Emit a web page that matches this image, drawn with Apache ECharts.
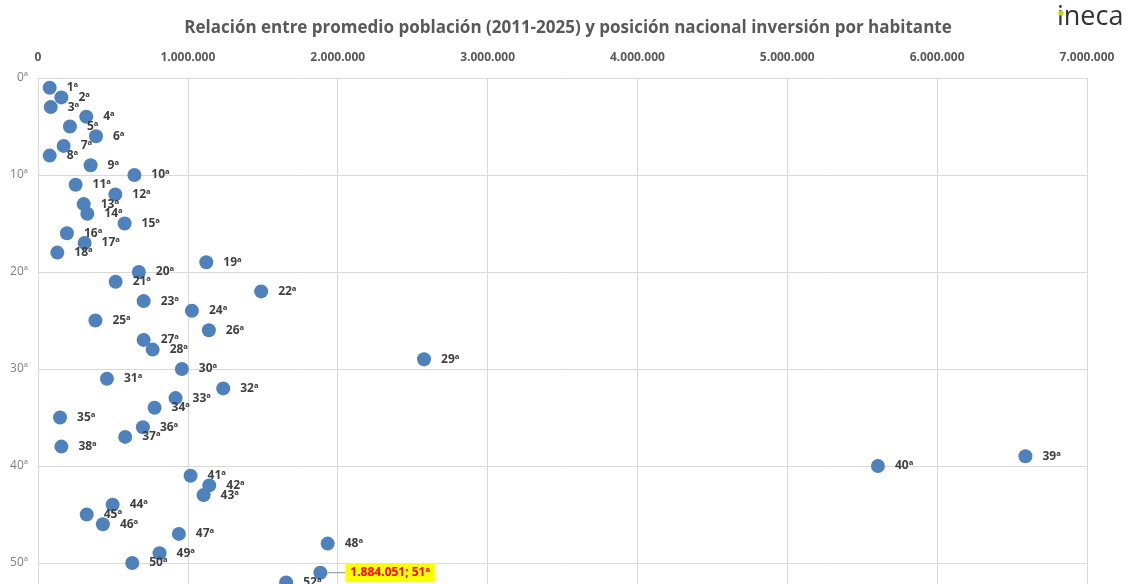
<!DOCTYPE html>
<html>
<head>
<meta charset="utf-8">
<title>Población vs posición inversión</title>
<script src="https://cdn.jsdelivr.net/npm/echarts@6/dist/echarts.min.js"></script>
<style>
  html, body { margin: 0; padding: 0; background: #fff; }
  #chart { width: 1132px; height: 584px; }
</style>
</head>
<body>
<div id="chart"></div>
<script>
// posición nacional (eje Y) de cada municipio
const ranks = [1, 2, 3, 4, 5, 6, 7, 8, 9, 10,
  11, 12, 13, 14, 15, 16, 17, 18, 19, 20,
  21, 22, 23, 24, 25, 26, 27, 28, 29, 30,
  31, 32, 33, 34, 35, 36, 37, 38, 39, 40,
  41, 42, 43, 44, 45, 46, 47, 48, 49, 50,
  51, 52];

// promedio población 2011-2025 (eje X)
const poblacion = [78000, 156000, 85000, 322000, 213000, 387000, 171000, 78000, 351000, 643000,
  251000, 516000, 305000, 329000, 578000, 193000, 311000, 129000, 1123000, 673000,
  518000, 1489000, 705000, 1027000, 383000, 1140000, 705000, 765000, 2576000, 960000,
  460000, 1236000, 918000, 778000, 147000, 700000, 582000, 156000, 6589000, 5605000,
  1018000, 1143000, 1105000, 498000, 325000, 433000, 940000, 1933000, 811000, 629000,
  1884051, 1656000];

// el punto resaltado
const destacado = 51;

const xTicks = { min: 0, max: 7000000, interval: 1000000 };
const yTicks = { min: 0, max: 60, interval: 10 };

const fmtMiles = v => String(v).replace(/\B(?=(\d{3})+(?!\d))/g, '.');

const chart = echarts.init(document.getElementById('chart'));

const puntos = ranks.map((r, i) => {
  const item = { value: [poblacion[i], r] };
  if (r === destacado) {
    item.label = {
      formatter: fmtMiles(poblacion[i]) + '; ' + r + 'ª',
      color: '#ff0000',
      fontSize: 12,
      backgroundColor: '#ffff00',
      padding: [4, 5, 3, 5],
      distance: 8,
      offset: [0, 0]
    };
    item.labelLine = { show: true, lineStyle: { color: '#8c8c8c', width: 1 } };
  }
  return item;
});

const options = {
  backgroundColor: '#ffffff',
  animation: false,
  title: {
    text: 'Relación entre promedio población (2011-2025) y posición nacional inversión por habitante',
    left: 563,
    textAlign: 'center',
    top: 15,
    textStyle: {
      fontFamily: 'Open Sans',
      fontSize: 17,
      fontWeight: 'bold',
      color: '#595959'
    }
  },
  graphic: [
    {
      type: 'text',
      left: 1057,
      top: 4,
      style: {
        text: 'ineca',
        font: '500 27px "Open Sans"',
        fill: '#333333'
      }
    },
    {
      type: 'circle',
      shape: { cx: 1061, cy: 13, r: 2.6 },
      style: { fill: '#c8d400' }
    }
  ],
  grid: {
    left: 38,
    top: 78,
    width: 1049,
    height: 582,
    outerBoundsMode: 'none'
  },
  xAxis: {
    type: 'value',
    position: 'top',
    min: xTicks.min,
    max: xTicks.max,
    interval: xTicks.interval,
    axisLine: { show: false },
    axisTick: { show: false },
    axisLabel: {
      margin: 14,
      fontFamily: 'Open Sans',
      fontSize: 12,
      fontWeight: 'bold',
      color: '#595959',
      formatter: fmtMiles
    },
    splitLine: { lineStyle: { color: '#d9d9d9', width: 1 } }
  },
  yAxis: {
    type: 'value',
    inverse: true,
    min: yTicks.min,
    max: yTicks.max,
    interval: yTicks.interval,
    axisLine: { show: false },
    axisTick: { show: false },
    axisLabel: {
      margin: 10,
      fontFamily: 'Open Sans',
      fontSize: 12,
      color: '#7f7f7f',
      formatter: '{value}ª'
    },
    splitLine: { lineStyle: { color: '#d9d9d9', width: 1 } }
  },
  series: [
    {
      type: 'scatter',
      symbol: 'circle',
      symbolSize: 14,
      itemStyle: { color: '#4f81bd', opacity: 1 },
      label: {
        show: true,
        position: 'right',
        distance: 10,
        offset: [0, 2],
        fontFamily: 'Open Sans',
        fontSize: 12,
        fontWeight: 'bold',
        color: '#404040',
        formatter: p => p.value[1] + 'ª'
      },
      labelLayout: p => (p.dataIndex === destacado - 1 ? { dx: 10 } : {}),
      data: puntos
    }
  ]
};

chart.setOption(options);
</script>
</body>
</html>
